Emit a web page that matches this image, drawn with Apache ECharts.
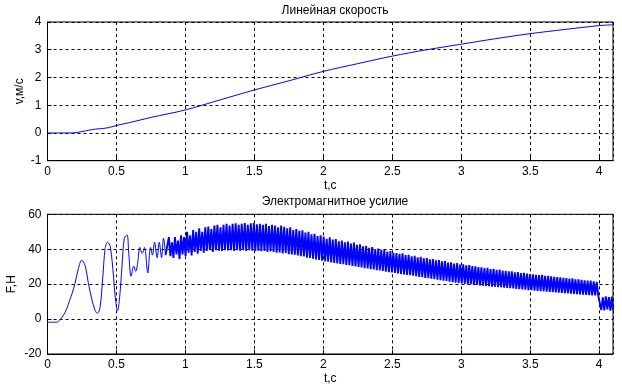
<!DOCTYPE html>
<html>
<head>
<meta charset="utf-8">
<script src="https://cdn.jsdelivr.net/npm/echarts@6/dist/echarts.min.js"></script>
<style>
html,body{margin:0;padding:0;background:#fff;}
#c{width:622px;height:388px;}
</style>
</head>
<body>
<div id="c"></div>
<script>
// ---- Top plot: linear speed ----
const speedTitle = 'Линейная скорость';
const speedYName = 'v,м/с';
const speedT = [0, 0.1, 0.18, 0.25, 0.3, 0.35, 0.4, 0.45, 0.5, 0.6, 0.75, 1.0, 1.25, 1.5, 1.75, 2.0, 2.25, 2.5, 2.75, 3.0, 3.25, 3.5, 3.75, 4.0, 4.1];
const speedV = [0, 0, 0, 0.05, 0.1, 0.14, 0.16, 0.2, 0.27, 0.38, 0.56, 0.83, 1.19, 1.55, 1.88, 2.22, 2.5, 2.77, 3.0, 3.2, 3.4, 3.58, 3.73, 3.87, 3.9];

// ---- Bottom plot: electromagnetic force ----
const forceTitle = 'Электромагнитное усилие';
const forceYName = 'F,H';
const xName = 't,c';
// early transient
const forceT = [0, 0.066, 0.09, 0.114, 0.14, 0.16, 0.18, 0.199, 0.224, 0.248, 0.272, 0.297, 0.321, 0.345, 0.362, 0.381, 0.401, 0.418, 0.435, 0.455, 0.479, 0.491, 0.508, 0.523, 0.540, 0.557, 0.577, 0.589, 0.606, 0.625, 0.640, 0.655, 0.669, 0.686, 0.703, 0.727, 0.747, 0.761, 0.776, 0.795, 0.810, 0.827, 0.841, 0.856];
const forceV = [-1.8, -1.8, -0.5, 2, 6, 10.6, 15, 20.3, 28.9, 33.7, 30.8, 20.3, 11.5, 5, 3.3, 6.8, 24, 40.5, 44, 41.5, 24, 12.5, 4.8, 12.5, 30, 46.3, 48.2, 37.6, 24.5, 30.3, 27.4, 32.8, 41, 37.6, 41, 26.4, 41, 36.6, 44, 35.2, 44, 35.2, 46.3, 36.6];
// oscillating band: one peak and one trough per cycle, sampled every bandStep seconds from bandStart
const bandStart = 0.88;
const bandStep = 0.011;
const bandHi = [
  47, 44, 47, 45, 48, 47, 50, 48, 51, 50,
  52, 50, 52.5, 53, 51.5, 53.5, 54, 52.5, 54, 54.5,
  53.5, 54.5, 54.8, 54, 54.5, 55, 54, 54.8, 55, 54.2,
  54.5, 54, 54.6, 53.2, 54, 53.5, 52.5, 53.5, 52.8, 52,
  52.5, 51, 51.5, 50.5, 50.8, 49.5, 50, 48.5, 48.8, 47.5,
  48, 47.2, 46, 46.8, 45.5, 45.8, 44.5, 45, 44, 44.4,
  43.2, 43.8, 42.5, 42.8, 41.6, 42, 40.8, 41.2, 40, 40.4,
  39.6, 39.8, 38.6, 39, 38, 37.8, 37.4, 37.6, 36.6, 36.8,
  36, 36.2, 35.4, 35.6, 34.8, 35, 34.2, 34.4, 33.6, 33.8,
  33, 33.2, 32.4, 32.5, 31.8, 32, 31.2, 31.4, 30.8, 30.9,
  30.4, 30.2, 29.8, 29.6, 29.2, 29.3, 28.6, 28.8, 28.2, 28.3,
  27.8, 27.6, 27.3, 27.4, 26.8, 26.9, 26.4, 26.5, 26, 25.8,
  25.6, 25.4, 25.2, 25.3, 24.8, 24.7, 24.5, 24.2, 24, 23.9,
  23.6, 23.4, 23.2, 23.3, 22.8, 22.7, 22.5, 22.2, 22, 22.1,
  21.6, 21.3, 12.8, 12.5, 13, 12.6, 12.8
];
const bandLo = [
  36, 35, 37, 34.5, 37, 36, 38, 36.5, 38.5, 37.5,
  39, 38, 39, 39.5, 38.5, 39.5, 39.2, 39, 39.5, 39.3,
  39.4, 39, 39.5, 39.2, 39.4, 39, 39.4, 39.2, 38.8, 39.2,
  38.8, 39, 38.5, 38.8, 38.4, 38, 38.2, 37.6, 37.8, 37.2,
  37, 36.8, 36.4, 36, 35.8, 35.2, 35, 34.6, 34.2, 33.8,
  33.4, 33, 32.8, 32.5, 32.2, 31.9, 31.6, 31.4, 31, 30.8,
  30.4, 30.2, 29.8, 29.6, 29.2, 29, 28.6, 28.4, 28, 27.8,
  27.5, 27.2, 26.9, 26.7, 26.4, 26.2, 25.8, 25.6, 25.3, 25.1,
  24.8, 24.5, 24.2, 24, 23.6, 23.4, 23.1, 22.8, 22.5, 22.3,
  22, 21.8, 21.4, 21.2, 20.9, 20.7, 20.4, 20.2, 20, 19.8,
  19.6, 19.5, 19.3, 19.1, 19, 18.8, 18.6, 18.5, 18.3, 18.2,
  18, 17.8, 17.7, 17.5, 17.3, 17.1, 17, 16.8, 16.6, 16.5,
  16.3, 16.2, 16, 15.9, 15.7, 15.6, 15.4, 15.3, 15.1, 15,
  14.9, 14.7, 14.6, 14.4, 14.3, 14.1, 14, 13.9, 13.7, 13.6,
  13.5, 13.4, 5.2, 5, 5.5, 4.8, 5.3
];

const xTicks = {min: 0, max: 4.1, interval: 0.5};
const speedTicks = {min: -1, max: 4, interval: 1};
const forceTicks = {min: -20, max: 60, interval: 20};

// ---- build series data ----
const speedData = speedT.map((t, i) => [t, speedV[i]]);
const earlyData = forceT.map((t, i) => [t, forceV[i]]);
const bandData = [earlyData[earlyData.length - 1]];
for (let k = 0; k < bandHi.length; k++) {
  bandData.push([+(bandStart + 2 * k * bandStep).toFixed(4), bandHi[k]]);
  const tl = +(bandStart + (2 * k + 1) * bandStep).toFixed(4);
  bandData.push([Math.min(tl, 4.1), bandLo[k]]);
}

const FONT = 'Arial, "Liberation Sans", sans-serif';
const txt = {color: '#000', fontFamily: FONT, fontSize: 12};
const blue = '#0000ff';

function xAxis(gi, gap) {
  return {
    type: 'value', gridIndex: gi, min: xTicks.min, max: xTicks.max, interval: xTicks.interval,
    name: xName, nameLocation: 'middle', nameGap: gap, nameMoveOverlap: false, nameTextStyle: txt,
    axisLine: {show: true, onZero: false, lineStyle: {color: '#000', width: 1}},
    axisTick: {show: true, inside: true, length: 4, lineStyle: {color: '#000'}},
    axisLabel: Object.assign({margin: 5, showMaxLabel: false}, txt),
    splitLine: {show: true, lineStyle: {color: '#000', type: [3, 3], width: 1}}
  };
}
function yAxis(gi, tk, name, gap) {
  return {
    type: 'value', gridIndex: gi, min: tk.min, max: tk.max, interval: tk.interval,
    name: name, nameLocation: 'middle', nameGap: gap, nameMoveOverlap: false, nameTextStyle: txt,
    axisLine: {show: true, onZero: false, lineStyle: {color: '#000', width: 1}},
    axisTick: {show: true, inside: true, length: 4, lineStyle: {color: '#000'}},
    axisLabel: Object.assign({margin: 6}, txt),
    splitLine: {show: true, lineStyle: {color: '#000', type: [3, 3], width: 1}}
  };
}

const chart = echarts.init(document.getElementById('c'), null, {renderer: 'canvas'});
chart.setOption({
  animation: false,
  backgroundColor: '#fff',
  title: [
    {text: speedTitle, left: 330, top: 0, textAlign: 'center', textStyle: Object.assign({fontWeight: 'normal'}, txt)},
    {text: forceTitle, left: 330, top: 191, textAlign: 'center', textStyle: Object.assign({fontWeight: 'normal'}, txt)}
  ],
  grid: [
    {left: 47.5, right: 9, top: 22, height: 138.7, containLabel: false, outerBoundsMode: 'none', show: true, borderColor: '#000', borderWidth: 1, backgroundColor: 'transparent'},
    {left: 47.5, right: 9, top: 214.3, height: 139.7, containLabel: false, outerBoundsMode: 'none', show: true, borderColor: '#000', borderWidth: 1, backgroundColor: 'transparent'}
  ],
  xAxis: [xAxis(0, 19), xAxis(1, 19)],
  yAxis: [yAxis(0, speedTicks, speedYName, 22), yAxis(1, forceTicks, forceYName, 29.5)],
  series: [
    {type: 'line', xAxisIndex: 0, yAxisIndex: 0, data: speedData, smooth: 0.3, showSymbol: false, lineStyle: {color: blue, width: 1}},
    {type: 'line', xAxisIndex: 1, yAxisIndex: 1, data: earlyData, smooth: 0.35, showSymbol: false, lineStyle: {color: blue, width: 1}},
    {type: 'line', xAxisIndex: 1, yAxisIndex: 1, data: bandData, showSymbol: false, lineStyle: {color: blue, width: 1.9}}
  ]
});
</script>
</body>
</html>
